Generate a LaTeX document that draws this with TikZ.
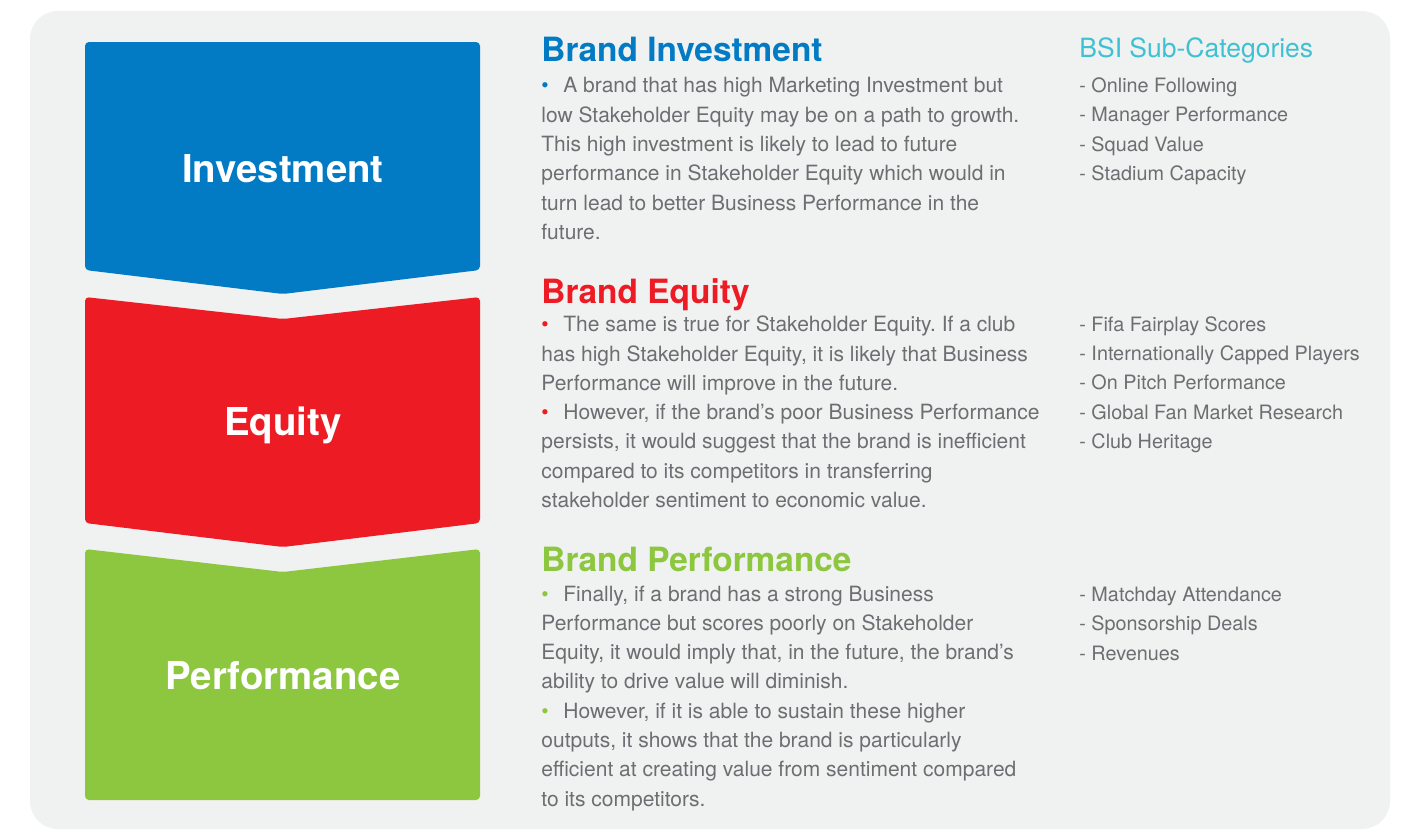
\documentclass[tikz,border=0pt]{standalone}
\usepackage{fontspec}
\setmainfont{TeX Gyre Heros}
\frenchspacing
\definecolor{bgC}{HTML}{F0F1F1}
\definecolor{blueC}{HTML}{027BC4}
\definecolor{redC}{HTML}{ED1C24}
\definecolor{greenC}{HTML}{8DC63F}
\definecolor{cyanC}{HTML}{3EC1D3}
\definecolor{grayC}{HTML}{6D6E71}
\newcommand\blt[1]{\makebox[11pt][l]{\color{#1}\textbullet}}
\tikzset{
  panel/.style={fill=bgC, draw=none, rounded corners=14pt},
  chev/.style={draw=none, rounded corners=2pt},
  biglabel/.style={text=white, font=\fontsize{19.2}{23}\bfseries\selectfont, anchor=base, inner sep=0pt},
  heading/.style={font=\fontsize{16.7}{20}\bfseries\selectfont, anchor=base west, inner sep=0pt},
  body/.style={text=grayC, font=\fontsize{10.5}{12}\selectfont, anchor=base west, inner sep=0pt},
  subhead/.style={text=cyanC, font=\fontsize{13.25}{16}\selectfont, anchor=base west, inner sep=0pt},
  subitem/.style={text=grayC, font=\fontsize{9.9}{12}\selectfont, anchor=base west, inner sep=0pt},
}
\begin{document}
\begin{tikzpicture}[x=0.5pt, y=-0.5pt]
\useasboundingbox (0,0) rectangle (1426,830);
\fill[white] (0,0) rectangle (1426,830);
\path[panel] (30,11) rectangle (1390,829);

% chevron boxes
\fill[chev, blueC] (85,42) -- (480,42) -- (480,270) -- (283,294) -- (85,270) -- cycle;
\fill[chev, redC] (85,297) -- (283,319) -- (480,297) -- (480,523) -- (283,547) -- (85,523) -- cycle;
\fill[chev, greenC] (85,549) -- (283,572) -- (480,549) -- (480,800) -- (85,800) -- cycle;

\node[biglabel] (invlabel) at (283,182.7) {Investment};
\node[biglabel] (eqlabel) at (283,435.7) {Equity};
\node[biglabel] (perflabel) at (283,689.3) {Performance};

% headings
\node[heading, text=blueC] (invhead) at (541,61.7) {Brand Investment};
\node[heading, text=redC] (eqhead) at (541,303.3) {Brand Equity};
\node[heading, text=greenC] (perfhead) at (541,571.7) {Brand Performance};

% body text
\foreach \t [count=\i from 0] in {
  {\blt{blueC}A brand that has high Marketing Investment but},
  {low Stakeholder Equity may be on a path to growth.},
  {This high investment is likely to lead to future},
  {performance in Stakeholder Equity which would in},
  {turn lead to better Business Performance in the},
  {future.}}
  \node[body] (inv\i) at (541,92.7+29.4*\i) {\t};

\foreach \t [count=\i from 0] in {
  {\blt{redC}The same is true for Stakeholder Equity. If a club},
  {has high Stakeholder Equity, it is likely that Business},
  {Performance will improve in the future.},
  {\blt{redC}However, if the brand’s poor Business Performance},
  {persists, it would suggest that the brand is inefficient},
  {compared to its competitors in transferring},
  {stakeholder sentiment to economic value.}}
  \node[body] (eq\i) at (541,331.7+29.3*\i) {\t};

\foreach \t [count=\i from 0] in {
  {\blt{greenC}Finally, if a brand has a strong Business},
  {Performance but scores poorly on Stakeholder},
  {Equity, it would imply that, in the future, the brand’s},
  {ability to drive value will diminish.},
  {\blt{greenC}However, if it is able to sustain these higher},
  {outputs, it shows that the brand is particularly},
  {efficient at creating value from sentiment compared},
  {to its competitors.}}
  \node[body] (perf\i) at (541,601+29.3*\i) {\t};

% sub-categories
\node[subhead] (bsi) at (1079,57.7) {BSI Sub-Categories};
\foreach \t [count=\i from 0] in {
  {- Online Following},
  {- Manager Performance},
  {- Squad Value},
  {- Stadium Capacity}}
  \node[subitem] (sinv\i) at (1079,92.3+29.4*\i) {\t};
\foreach \t [count=\i from 0] in {
  {- Fifa Fairplay Scores},
  {- Internationally Capped Players},
  {- On Pitch Performance},
  {- Global Fan Market Research},
  {- Club Heritage}}
  \node[subitem] (seq\i) at (1079,331.3+29.3*\i) {\t};
\foreach \t [count=\i from 0] in {
  {- Matchday Attendance},
  {- Sponsorship Deals},
  {- Revenues}}
  \node[subitem] (sperf\i) at (1079,601.5+29.3*\i) {\t};
\end{tikzpicture}
\end{document}
